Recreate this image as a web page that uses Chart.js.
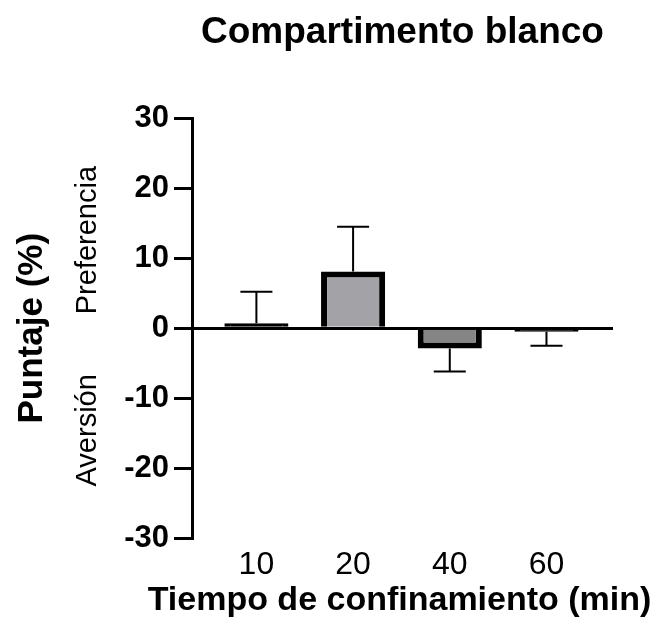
<!DOCTYPE html>
<html>
<head>
<meta charset="utf-8">
<script src="https://cdn.jsdelivr.net/npm/chart.js@4"></script>
<style>
  html, body { margin: 0; padding: 0; background: #fff; }
  #wrap { width: 657px; height: 632px; }
</style>
</head>
<body>
<div id="wrap"><canvas id="grafico"></canvas></div>
<script>
const categorias = ['10', '20', '40', '60'];
const puntaje = [0.7, 8.1, -2.9, -0.5];
const errores = [4.5, 6.4, 3.3, 2.0];
const rellenos = ['#000000', '#a3a2a7', '#858585', '#000000'];
const ticksY = [-30, -20, -10, 0, 10, 20, 30];

const fuente = "'Liberation Sans', Arial, sans-serif";

// barras de error (solo hacia afuera del cero, como en GraphPad)
const barrasError = {
  id: 'barrasError',
  afterDatasetsDraw(chart) {
    const meta = chart.getDatasetMeta(0);
    const y = chart.scales.y;
    const ctx = chart.ctx;
    ctx.save();
    ctx.strokeStyle = '#000';
    ctx.lineWidth = 2;
    meta.data.forEach((bar, i) => {
      const v = puntaje[i];
      const fin = v >= 0 ? v + errores[i] : v - errores[i];
      const y0 = y.getPixelForValue(v);
      const y1 = y.getPixelForValue(fin);
      const half = bar.width / 4;
      ctx.beginPath();
      ctx.moveTo(bar.x, y0);
      ctx.lineTo(bar.x, y1);
      ctx.moveTo(bar.x - half, y1);
      ctx.lineTo(bar.x + half, y1);
      ctx.stroke();
    });
    ctx.restore();
  }
};

// textos: Preferencia / Aversión y título del eje x
const textos = {
  id: 'textos',
  afterDraw(chart) {
    const y = chart.scales.y;
    const area = chart.chartArea;
    const ctx = chart.ctx;
    ctx.save();
    ctx.fillStyle = '#000';
    ctx.font = '29px ' + fuente;
    ctx.textAlign = 'center';
    ctx.textBaseline = 'middle';
    [['Preferencia', y.getPixelForValue(12.6)], ['Aversión', y.getPixelForValue(-14.6)]].forEach(([t, py]) => {
      ctx.save();
      ctx.translate(88, py);
      ctx.rotate(-Math.PI / 2);
      ctx.fillText(t, 0, 0);
      ctx.restore();
    });
    ctx.font = 'bold 34px ' + fuente;
    ctx.fillText('Tiempo de confinamiento (min)', (area.left + area.right) / 2 - 3, 601);
    ctx.restore();
  }
};

const ctx = document.getElementById('grafico').getContext('2d');

new Chart(ctx, {
  type: 'bar',
  data: {
    datasets: [{
      data: puntaje.map((v, i) => ({ x: i, y: v })),
      backgroundColor: rellenos,
      borderColor: '#000',
      borderWidth: 6,
      borderSkipped: 'start',
      barPercentage: 0.663,
      categoryPercentage: 1
    }]
  },
  options: {
    responsive: true,
    maintainAspectRatio: false,
    animation: false,
    layout: { padding: { left: 0, right: 44, top: 0, bottom: 0 } },
    plugins: {
      legend: { display: false },
      tooltip: { enabled: false },
      title: {
        display: true,
        text: 'Compartimento blanco',
        fullSize: false,
        color: '#000',
        font: { family: fuente, size: 37, weight: 'bold' },
        padding: { top: 11, bottom: 63 }
      }
    },
    scales: {
      x: {
        type: 'linear',
        offset: false,
        min: -0.666,
        max: 3.688,
        afterBuildTicks: s => { s.ticks = categorias.map((c, i) => ({ value: i })); },
        afterFit: s => { s.height = 94; },
        grid: { display: false, drawTicks: false },
        border: { display: false },
        ticks: {
          color: '#000',
          padding: 8,
          font: { family: fuente, size: 32 },
          callback: v => categorias[v]
        }
      },
      y: {
        min: -30,
        max: 30,
        afterBuildTicks: s => { s.ticks = ticksY.map(v => ({ value: v })); },
        afterFit: s => { s.width = 192; },
        grid: {
          color: c => (c.tick && c.tick.value === 0 ? '#000' : 'transparent'),
          tickColor: '#000',
          lineWidth: 3,
          tickWidth: 3,
          tickLength: 18
        },
        border: { display: true, color: '#000', width: 3 },
        ticks: {
          color: '#000',
          padding: 5,
          font: { family: fuente, size: 31, weight: 'bold' }
        },
        title: {
          display: true,
          text: 'Puntaje (%)',
          color: '#000',
          font: { family: fuente, size: 35, weight: 'bold' },
          padding: { top: 11, bottom: 0 }
        }
      }
    }
  },
  plugins: [barrasError, textos]
});
</script>
</body>
</html>
